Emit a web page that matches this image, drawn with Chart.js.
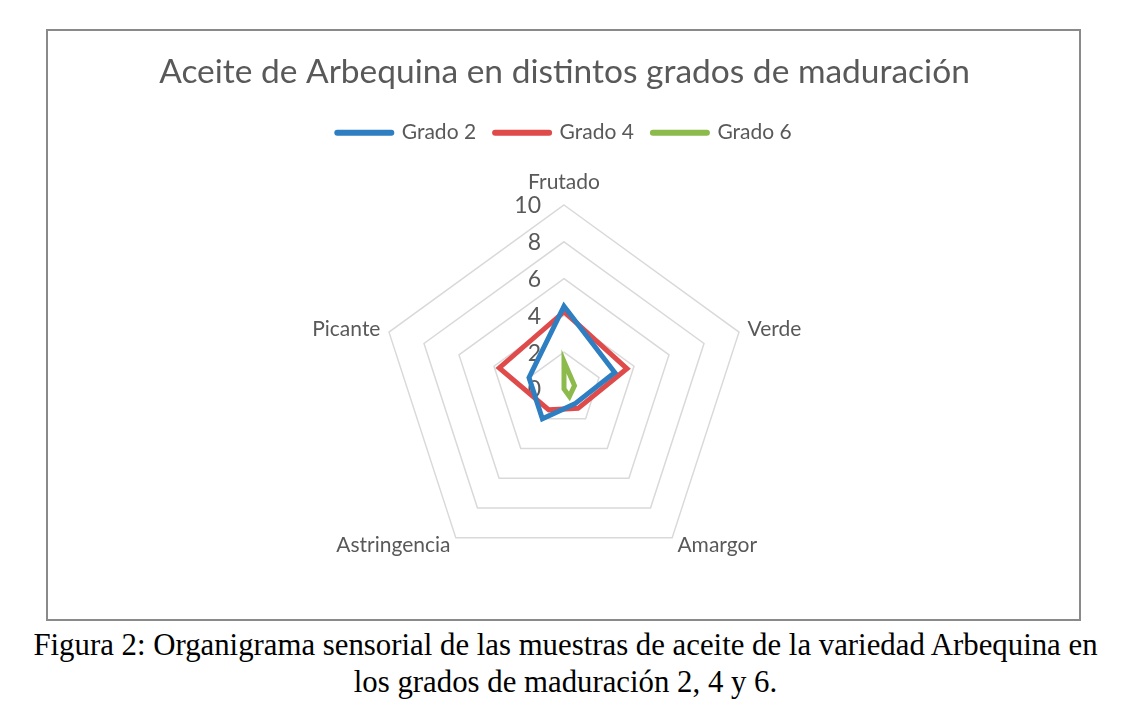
<!DOCTYPE html>
<html>
<head>
<meta charset="utf-8">
<script src="https://cdn.jsdelivr.net/npm/chart.js@4.4.1/dist/chart.umd.min.js"></script>
<style>
  html, body { margin: 0; padding: 0; background: #fff; }
  body { width: 1148px; height: 710px; position: relative; overflow: hidden; }
  #marco {
    position: absolute; left: 46px; top: 29px; width: 1035px; height: 592px;
    border: 2px solid #8a8a8a; box-sizing: border-box;
  }
  #marco canvas { position: absolute; left: 0; top: 0; }
  #pie {
    position: absolute; left: 0; top: 627px; width: 1131px;
    text-align: center; font-family: "Liberation Serif", "DejaVu Serif", serif;
    font-size: 30.8px; line-height: 37px; color: #000;
  }
</style>
</head>
<body>
<div id="marco"><canvas id="radarChart" width="1031" height="588"></canvas></div>
<div id="pie">Figura 2: Organigrama sensorial de las muestras de aceite de la variedad Arbequina en<br>los grados de maduración 2, 4 y 6.</div>
<script>
const categorias = ['Frutado', 'Verde', 'Amargor', 'Astringencia', 'Picante'];
const series = ['Grado 2', 'Grado 4', 'Grado 6'];
const grado2 = [4.5, 2.9, 1.0, 2.0, 2.0];
const grado4 = [4.2, 3.6, 1.3, 1.4, 3.7];
const grado6 = [1.5, 0.6, 0.5, 0, 0];
const colores = ['#2E7EC2', '#DF4B4B', '#8CBB4C'];

const gris = '#595959';
const fuente = 'Lato, Carlito, "Open Sans", sans-serif';

// hueco bajo la leyenda, antes del radar
const margenLeyenda = {
    id: 'margenLeyenda',
    beforeInit(chart) {
        const fitOriginal = chart.legend.fit;
        chart.legend.fit = function fit() {
            fitOriginal.bind(chart.legend)();
            this.height += 52;
        };
    }
};

// etiquetas de los ejes y valores de la escala, como en Excel
const etiquetasRadar = {
    id: 'etiquetasRadar',
    beforeDatasetsDraw(chart) {
        const scale = chart.scales.r;
        const ctx = chart.ctx;
        ctx.save();
        ctx.fillStyle = gris;
        ctx.font = '23px ' + fuente;
        ctx.textAlign = 'right';
        ctx.textBaseline = 'middle';
        for (const t of scale.ticks) {
            const d = scale.getDistanceFromCenterForValue(t.value);
            ctx.fillText(t.label, scale.xCenter - 23, scale.yCenter - d + 1);
        }
        ctx.font = '21px ' + fuente;
        categorias.forEach((label, i) => {
            if (i === 0) {
                const p = scale.getPointPosition(i, scale.drawingArea + 12);
                ctx.textAlign = 'center';
                ctx.textBaseline = 'bottom';
                ctx.fillText(label, p.x, p.y);
            } else {
                const p = scale.getPointPosition(i, scale.drawingArea + 9);
                ctx.textAlign = p.x > scale.xCenter ? 'left' : 'right';
                ctx.textBaseline = 'middle';
                ctx.fillText(label, p.x, p.y);
            }
        });
        ctx.restore();
    }
};

function dataset(label, data, color) {
    return {
        label: label,
        data: data,
        borderColor: color,
        backgroundColor: color,
        borderWidth: 5,
        borderCapStyle: 'round',
        borderJoinStyle: 'miter',
        fill: false,
        pointRadius: 0,
        pointHoverRadius: 0,
        pointStyle: 'line'
    };
}

const config = {
    type: 'radar',
    data: {
        labels: categorias,
        datasets: [
            dataset(series[0], grado2, colores[0]),
            dataset(series[1], grado4, colores[1]),
            dataset(series[2], grado6, colores[2])
        ]
    },
    options: {
        responsive: false,
        animation: false,
        layout: { padding: { left: 2, right: 0, top: 0, bottom: 45 } },
        plugins: {
            title: {
                display: true,
                text: 'Aceite de Arbequina en distintos grados de maduración',
                color: gris,
                font: { family: fuente, size: 33.5, weight: 'normal' },
                padding: { top: 21, bottom: 11 }
            },
            legend: {
                position: 'top',
                labels: {
                    color: gris,
                    font: { family: fuente, size: 21 },
                    usePointStyle: true,
                    pointStyle: 'line',
                    pointStyleWidth: 54,
                    padding: 19,
                    generateLabels(chart) {
                        return Chart.defaults.plugins.legend.labels.generateLabels(chart)
                            .map(item => Object.assign(item, { lineWidth: 6, lineCap: 'round' }));
                    }
                }
            },
            tooltip: { enabled: false }
        },
        scales: {
            r: {
                min: 0,
                max: 10,
                ticks: { stepSize: 2, display: false },
                grid: { color: '#d9d9d9', lineWidth: 1.5 },
                angleLines: { display: false },
                pointLabels: { display: false }
            }
        }
    },
    plugins: [margenLeyenda, etiquetasRadar]
};

new Chart(document.getElementById('radarChart').getContext('2d'), config);
</script>
</body>
</html>
